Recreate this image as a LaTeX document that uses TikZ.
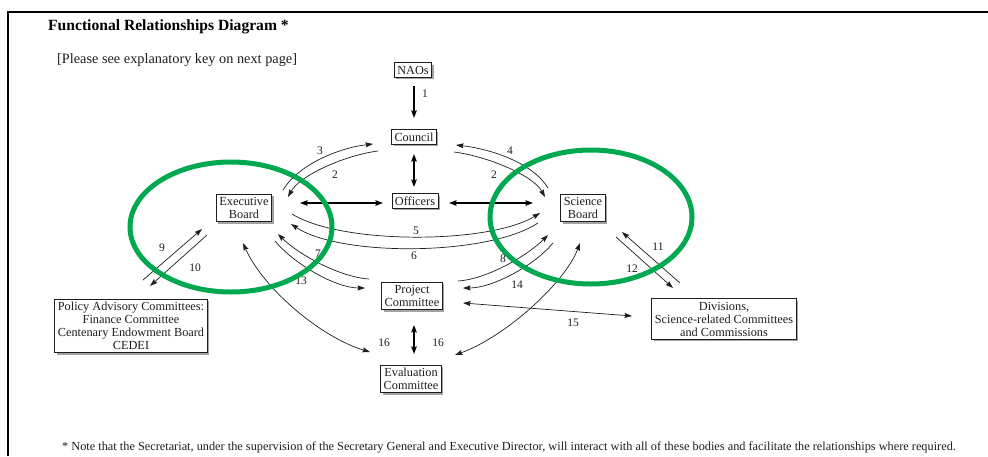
\documentclass[tikz,border=0pt]{standalone}
\usepackage{fontspec}
\setmainfont{Liberation Serif}
\usetikzlibrary{arrows.meta,shadows}
\definecolor{grn}{RGB}{0,168,80}
\definecolor{ink}{RGB}{30,30,30}
\begin{document}
\begin{tikzpicture}[x=1pt,y=-1pt,
  box/.style={draw=ink, line width=0.8pt, fill=white, inner sep=3pt, align=center, text=ink,
    font=\fontsize{12.3}{13}\selectfont,
    drop shadow={shadow xshift=2pt, shadow yshift=-2pt, fill=black!45, opacity=0.8}},
  lbl/.style={inner sep=0pt, text=ink, font=\fontsize{11.5}{12}\selectfont},
  arr/.style={draw=ink, line width=0.7pt, -{Stealth[length=7.5pt,width=5pt,inset=1pt]}},
  darr/.style={draw=ink, line width=0.7pt, {Stealth[length=7.5pt,width=5pt,inset=1pt]}-{Stealth[length=7.5pt,width=5pt,inset=1pt]}},
  tarr/.style={draw=black, line width=1.4pt, -{Stealth[length=7.5pt,width=5.5pt,inset=1pt]}},
  tdarr/.style={draw=black, line width=1.4pt, {Stealth[length=7.5pt,width=5.5pt,inset=1pt]}-{Stealth[length=7.5pt,width=5.5pt,inset=1pt]}},
  ring/.style={draw=grn, line width=5pt}]
\useasboundingbox (0,0) rectangle (988,456);
\fill[white] (0,0) rectangle (988,456);
% frame
\draw[line width=2.5pt, black] (8,456) -- (8,12) -- (988,12);
% titles
\node[anchor=west, inner sep=0pt, font=\fontsize{15.6}{17}\selectfont\bfseries] (title) at (48,27) {Functional Relationships Diagram *};
\node[anchor=west, inner sep=0pt, text=ink, font=\fontsize{14.3}{16}\selectfont] (sub) at (57,60) {[Please see explanatory key on next page]};
\node[anchor=west, inner sep=0pt, text=ink, font=\fontsize{12.3}{13}\selectfont] (foot) at (62,447) {* Note that the Secretariat, under the supervision of the Secretary General and Executive Director, will interact with all of these bodies and facilitate the relationships where required.};
% boxes
\node[box] (naos) at (413,70) {NAOs};
\node[box] (council) at (414,137) {Council};
\node[box] (officers) at (415,201) {Officers};
\node[box] (exec) at (244,208) {Executive\\Board};
\node[box] (science) at (583,208) {Science\\Board};
\node[box] (project) at (412,296) {Project\\Committee};
\node[box] (eval) at (411,379) {Evaluation\\Committee};
\node[box] (policy) at (131,326) {Policy Advisory Committees:\\Finance Committee\\Centenary Endowment Board\\CEDEI};
\node[box] (div) at (724,319) {Divisions,\\Science-related Committees\\and Commissions};
% straight thick arrows
\draw[tarr] ([shift={(1,16)}]naos.center) -- ([shift={(0,-19)}]council.center);
\draw[tdarr] ([shift={(0,17)}]council.center) -- ([shift={(-1,-14)}]officers.center);
\draw[tdarr] ([shift={(56,-5)}]exec.center) -- ([shift={(-32,2)}]officers.center);
\draw[tdarr] ([shift={(34,2)}]officers.center) -- ([shift={(-50,-5)}]science.center);
\draw[tdarr] ([shift={(2,29)}]project.center) -- ([shift={(3,-25)}]eval.center);
% council curves
\draw[arr] ([shift={(39,-18)}]exec.center) .. controls +(15,-25) and +(-35,4) .. ([shift={(-41,7)}]council.center);
\draw[arr] ([shift={(-36,14)}]council.center) .. controls +(-32,4) and +(12,-22) .. ([shift={(44,-11)}]exec.center);
\draw[arr] ([shift={(-35,-20)}]science.center) .. controls +(-15,-25) and +(35,4) .. ([shift={(42,8)}]council.center);
\draw[arr] ([shift={(40,15)}]council.center) .. controls +(32,4) and +(-12,-22) .. ([shift={(-38,-11)}]science.center);
% 5 and 6
\draw[arr] ([shift={(48,6)}]exec.center) .. controls +(50,31) and +(-50,31) .. ([shift={(-43,5)}]science.center);
\draw[arr] ([shift={(-45,15)}]science.center) .. controls +(-50,33) and +(50,33) .. ([shift={(47,16)}]exec.center);
% project curves
\draw[arr] ([shift={(-43,-17)}]project.center) .. controls +(-30,-2) and +(20,20) .. ([shift={(34,26)}]exec.center);
\draw[arr] ([shift={(31,33)}]exec.center) .. controls +(18,22) and +(-30,0) .. ([shift={(-47,-8)}]project.center);
\draw[arr] ([shift={(46,-15)}]project.center) .. controls +(30,-2) and +(-20,20) .. ([shift={(-35,27)}]science.center);
\draw[arr] ([shift={(-30,35)}]science.center) .. controls +(-18,22) and +(30,0) .. ([shift={(51,-8)}]project.center);
% evaluation curves
\draw[darr] ([shift={(-1,35)}]exec.center) .. controls +(20,45) and +(-50,-15) .. ([shift={(-41,-27)}]eval.center);
\draw[darr] ([shift={(-3,35)}]science.center) .. controls +(-15,40) and +(50,-18) .. ([shift={(44,-24)}]eval.center);
% policy
\draw[arr] ([shift={(12,-46)}]policy.center) -- ([shift={(-42,21)}]exec.center);
\draw[arr] ([shift={(-37,27)}]exec.center) -- ([shift={(19,-40)}]policy.center);
% divisions
\draw[arr] ([shift={(-44,-36)}]div.center) -- ([shift={(39,24)}]science.center);
\draw[arr] ([shift={(33,29)}]science.center) -- ([shift={(-51,-31)}]div.center);
\draw[darr] ([shift={(51,7)}]project.center) -- ([shift={(-92,-3)}]div.center);
% labels
\node[lbl] (n1) at (425,94) {1};
\node[lbl] (n3) at (320,151) {3};
\node[lbl] (n2a) at (335,175) {2};
\node[lbl] (n4) at (510,151) {4};
\node[lbl] (n2b) at (494,175) {2};
\node[lbl] (n5) at (416,231) {5};
\node[lbl] (n6) at (414,256) {6};
\node[lbl] (n7) at (318,254) {7};
\node[lbl] (n13) at (301,281) {13};
\node[lbl] (n8) at (503,259) {8};
\node[lbl] (n14) at (517,285) {14};
\node[lbl] (n9) at (162,248) {9};
\node[lbl] (n10) at (195,268) {10};
\node[lbl] (n11) at (658,247) {11};
\node[lbl] (n12) at (632,269) {12};
\node[lbl] (n15) at (573,323) {15};
\node[lbl] (n16a) at (384,343) {16};
\node[lbl] (n16b) at (438,343) {16};
% green rings
\draw[ring] (231,227) ellipse [x radius=101, y radius=65];
\draw[ring] (591,217) ellipse [x radius=101, y radius=67];
\end{tikzpicture}
\end{document}
